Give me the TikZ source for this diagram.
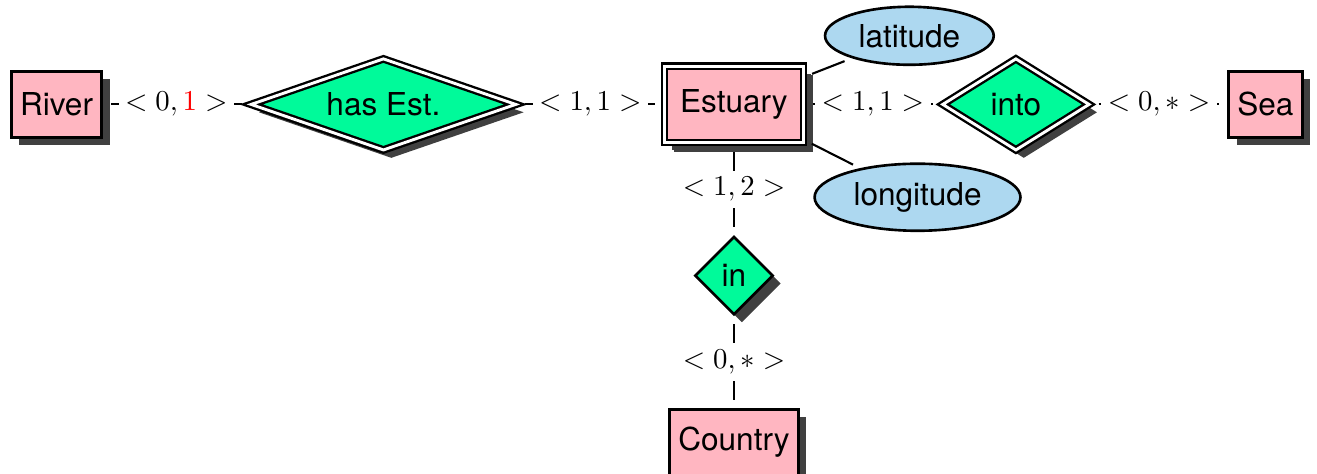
\documentclass[tikz,border=0pt]{standalone}
\usepackage{xcolor}
\usepackage{amsmath}
\usepackage{fontspec}
\newfontfamily\erfont{TeX Gyre Heros}
\usetikzlibrary{shapes.geometric,shadows}

\definecolor{entitypink}{RGB}{255,182,193}
\definecolor{relgreen}{RGB}{0,250,154}
\definecolor{attrblue}{RGB}{173,216,240}

\begin{document}
\begin{tikzpicture}[shorten >=3pt,shorten <=3pt,node distance=2cm,
            thick]
        \tikzstyle{entity}=[draw=black,line width=1pt,fill=entitypink,
            minimum height=25pt,font=\erfont\large,
            drop shadow={shadow xshift=3pt,shadow yshift=-3pt,fill=black!75,opacity=1}]
        \tikzstyle{weak entity}=[entity,double,double distance=1.1pt,
            line width=0.9pt,minimum height=29pt,inner xsep=6pt,
            drop shadow={shadow xshift=3.5pt,shadow yshift=-3.5pt,fill=black!75,opacity=1}]
        \tikzstyle{relation}=[diamond,draw=black,line width=1pt,fill=relgreen,
            font=\erfont\large,
            drop shadow={shadow xshift=3pt,shadow yshift=-3pt,fill=black!75,opacity=1}]
        \tikzstyle{ident relation}=[relation,double,double distance=1.1pt,
            line width=0.9pt]
        \tikzstyle{attribute}=[ellipse,draw=black,line width=1pt,fill=attrblue,
            font=\erfont\large]
        \tikzstyle{card}=[fill=white,inner sep=2.5pt,font=\fontsize{11}{13}\selectfont]

        \useasboundingbox (-21.5pt,39.7pt) rectangle (479.3pt,-140.5pt);

        \node[entity] (River) {River};
        \node[ident relation,aspect=3,minimum width=101pt,minimum height=35pt] (hasEst)
            [right of=River,node distance=124.3pt] {has Est.};
        \node[weak entity] (Estuary) [right of=hasEst,node distance=133.3pt] {Estuary};
        \node[ident relation,aspect=1.6,minimum width=56pt,minimum height=35pt] (into)
            [right of=Estuary,node distance=107.2pt] {into};
        \node[entity] (Sea) [right of=into,node distance=94.9pt] {Sea};
        \node[relation,inner sep=3pt] (in) [below of=Estuary,node distance=65.1pt] {in};
        \node[entity] (Country) [below of=in,node distance=63.3pt] {Country};
        \node[attribute] (latitude) [right of=Estuary,node distance=66.7pt,yshift=26.1pt] {latitude};
        \node[attribute] (longitude) [right of=Estuary,node distance=69.8pt,yshift=-35.3pt] {longitude};

        \path (River) edge node[card] {$<0,\textcolor{red}{1}>$} (hasEst);
        \path (hasEst) edge node[card] {$<1,1>$} (Estuary);
        \path (Estuary) edge node[card] {$<1,1>$} (into);
        \path (into) edge node[card] {$<0,*>$} (Sea);
        \path (Estuary) edge node[card] {$<1,2>$} (in);
        \path (in) edge node[card] {$<0,*>$} (Country);
        \path (Estuary) edge (latitude)
                        edge (longitude);
    \end{tikzpicture}
\end{document}
